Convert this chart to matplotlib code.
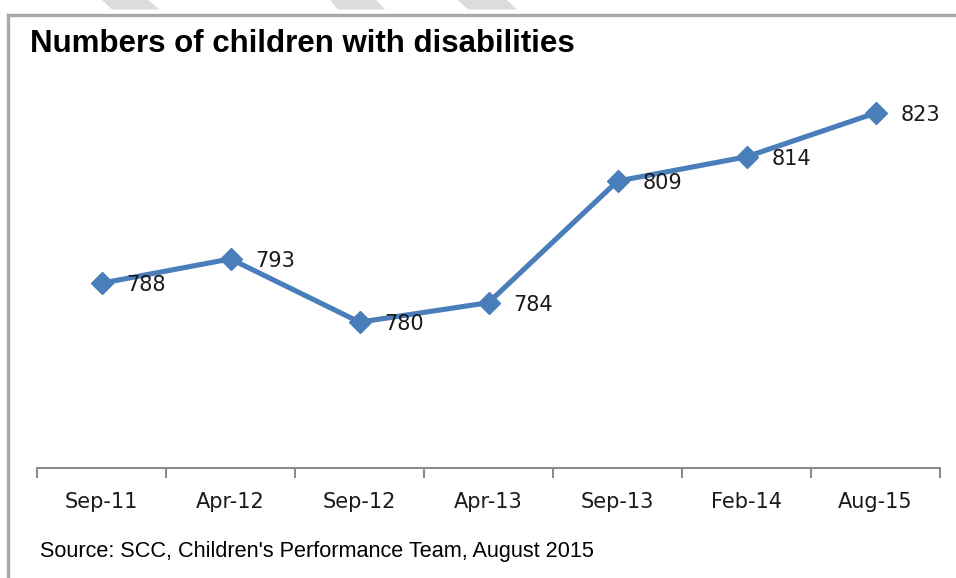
import matplotlib
matplotlib.use("Agg")
import matplotlib.pyplot as plt
from matplotlib.patches import Polygon
from matplotlib.lines import Line2D

# children with disabilities, by snapshot date
periods = ["Sep-11", "Apr-12", "Sep-12", "Apr-13", "Sep-13", "Feb-14", "Aug-15"]
counts = [788, 793, 780, 784, 809, 814, 823]

title = "Numbers of children with disabilities"
source = "Source: SCC, Children's Performance Team, August 2015"

W, H = 956, 578
fig = plt.figure(figsize=(W / 100, H / 100), dpi=100)

# decoration layer in pixel coordinates (y grows downwards)
deco = fig.add_axes([0, 0, 1, 1], zorder=0)
deco.set_xlim(0, W)
deco.set_ylim(H, 0)
deco.axis("off")
for top_l, top_r, bot_l, bot_r in [(102, 148, 112, 160), (330, 376, 338, 385), (458, 507, 468, 517)]:
    deco.add_patch(Polygon([(top_l, 0), (top_r, 0), (bot_r, 9.5), (bot_l, 9.5)],
                           closed=True, facecolor="#dcdcdc", edgecolor="none"))
deco.add_line(Line2D([8.5, W], [14.5, 14.5], color="#a8a8a8", lw=2.4))
deco.add_line(Line2D([8.5, 8.5], [14.5, H], color="#a8a8a8", lw=2.4))

ax = fig.add_axes([37 / W, 1 - 468 / H, 903 / W, (468 - 79) / H], zorder=1)
ax.patch.set_alpha(0)
x = list(range(len(periods)))
ax.plot(x, counts, color="#4a7ebb", lw=3.7, marker="D", markersize=11,
        markeredgecolor="#4a7ebb", solid_joinstyle="miter")
for xi, v in zip(x, counts):
    ax.annotate(str(v), (xi, v), xytext=(25, -2), textcoords="offset pixels",
                ha="left", va="center", fontsize=15, color="#1a1a1a",
                family="DejaVu Sans")

ax.set_xlim(-0.5, len(periods) - 0.5)
ax.set_ylim(750, 830)
ax.set_yticks([])
for s in ["left", "right", "top"]:
    ax.spines[s].set_visible(False)
ax.spines["bottom"].set_color("#8c8c8c")
ax.spines["bottom"].set_linewidth(1.5)

ax.set_xticks(x)
ax.set_xticklabels(periods, fontsize=15, family="DejaVu Sans", color="#1a1a1a")
ax.tick_params(axis="x", which="major", length=0, pad=17)
ax.set_xticks([i - 0.5 for i in range(len(periods) + 1)], minor=True)
ax.tick_params(axis="x", which="minor", length=7, width=1.5, color="#8c8c8c")

fig.text(30 / W, 1 - 52 / H, title, fontsize=22.5, fontweight="bold",
         family="Liberation Sans", va="baseline", ha="left", color="black")
fig.text(40 / W, 1 - 557 / H, source, fontsize=15.6, family="Liberation Sans",
         va="baseline", ha="left", color="black")

fig.savefig("out.png", dpi=100)
